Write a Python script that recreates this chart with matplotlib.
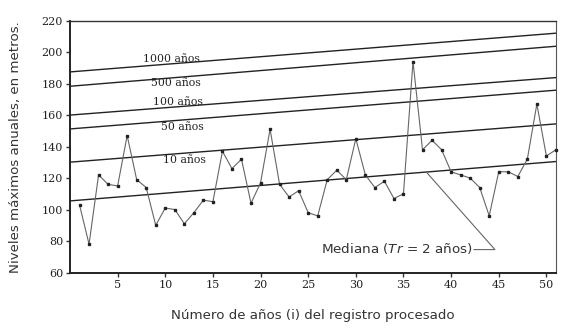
import matplotlib
matplotlib.use("Agg")
import matplotlib.pyplot as plt

# annual maximum levels (years 1..51)
years = list(range(1, 52))
levels = [103, 78, 122, 116, 115, 147, 119, 114, 90, 101,
          100, 91, 98, 106, 105, 137, 126, 132, 104, 117,
          151, 116, 108, 112, 98, 96, 119, 125, 119, 145,
          122, 114, 118, 107, 110, 194, 138, 144, 138, 124,
          122, 120, 114, 96, 124, 124, 121, 132, 167, 134, 138]

# return-period lines: value at year 0 and at year 51
line_names = ["1000 años", "500 años", "100 años", "50 años", "10 años", "Mediana"]
line_start = [187.4, 178.3, 160.0, 151.2, 130.1, 105.5]
line_end = [212.0, 203.7, 183.8, 175.8, 154.4, 130.5]

# where the labels of the lines sit (year, level)
label_x = [7.7, 8.5, 8.7, 9.5, 9.8]
label_y = [195.7, 180.4, 168.4, 152.5, 131.6]

y_ticks = [60, 80, 100, 120, 140, 160, 180, 200, 220]
x_ticks = [5, 10, 15, 20, 25, 30, 35, 40, 45, 50]

fig = plt.figure(figsize=(5.69, 3.32), dpi=100)
ax = fig.add_axes([0.123, 0.179, 0.854, 0.759])

x_max = 51
for s, e in zip(line_start, line_end):
    ax.plot([0, x_max], [s, e], color="#222222", lw=1.0, zorder=2)

for name, lx, ly in zip(line_names[:-1], label_x, label_y):
    ax.text(lx, ly, name, family="DejaVu Serif", fontsize=7.8,
            color="#222222", ha="left", va="center")

ax.plot(years, levels, color="#666666", lw=0.8, zorder=3)
ax.plot(years, levels, ls="none", marker="s", ms=1.7, color="#222222", zorder=4, clip_on=False)

# median annotation with leader line
ax.text(26.3, 75.5, "Mediana ($\\it{Tr}$ = 2 años)", fontsize=9.7, color="#333333",
        ha="left", va="center")
ax.plot([42.4, 44.6, 37.4], [74.6, 74.6, 123.8], color="#666666", lw=0.8)

ax.set_xlim(0, x_max)
ax.set_ylim(60, 220)
ax.set_yticks(y_ticks)
ax.set_xticks(x_ticks)
for lab in ax.get_xticklabels() + ax.get_yticklabels():
    lab.set_family("DejaVu Serif")
    lab.set_fontsize(8)
    lab.set_color("#222222")
ax.tick_params(direction="out", length=3, width=1, color="#333333", pad=2)

for side in ["left", "bottom"]:
    ax.spines[side].set_linewidth(1.4)
    ax.spines[side].set_color("#222222")
ax.spines["top"].set_linewidth(1.0)
ax.spines["top"].set_color("#333333")
ax.spines["right"].set_linewidth(0.8)
ax.spines["right"].set_color("#555555")

ax.set_ylabel("Niveles máximos anuales, en metros.", fontsize=9.6, color="#333333", labelpad=14)
ax.set_xlabel("Número de años (i) del registro procesado", fontsize=9.6, color="#333333", labelpad=14)

fig.savefig("out.png", dpi=100)
